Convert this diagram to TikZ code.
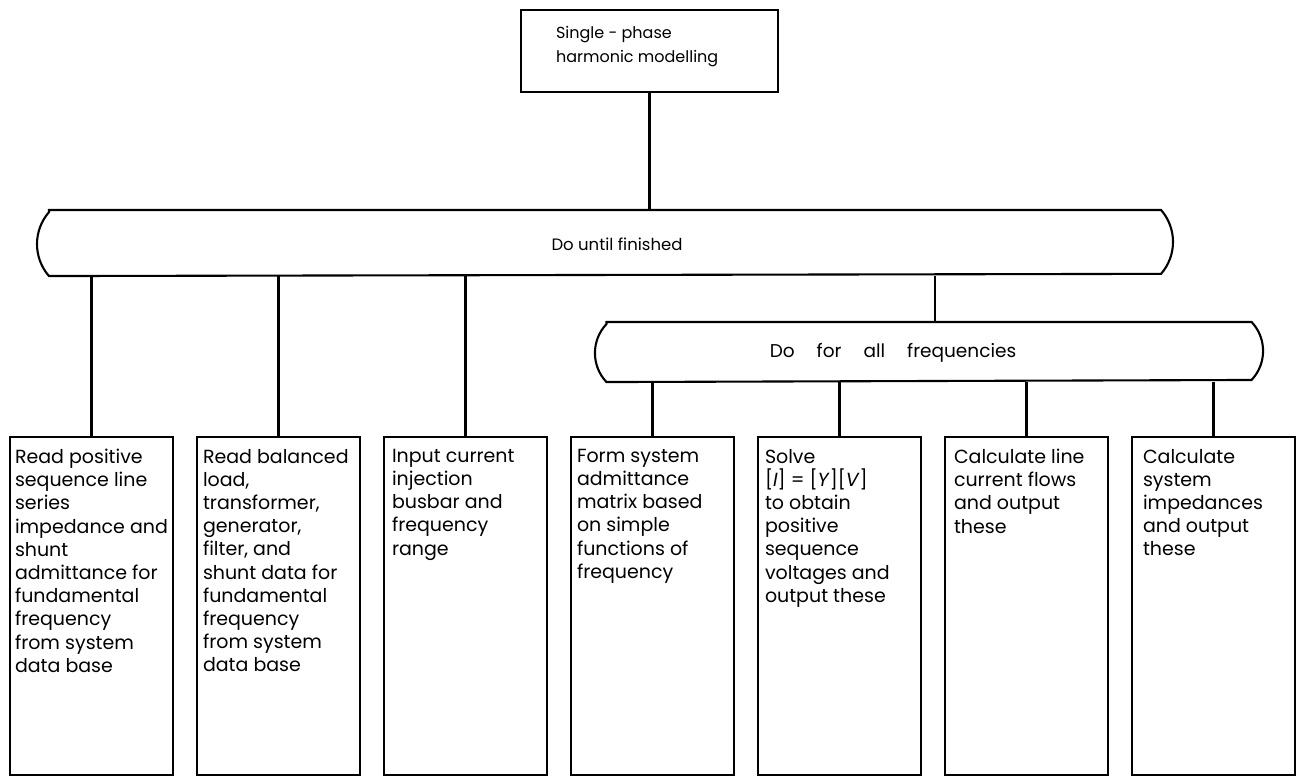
\documentclass[tikz,border=0pt]{standalone}
\usepackage{fontspec}
\setmainfont{Poppins}
\begin{document}
\begin{tikzpicture}[x=1pt,y=1pt,
  line width=2.1pt,
  frame/.style={draw, rectangle, inner sep=0pt},
  bar/.style={rectangle, inner sep=0pt},
  boxtxt/.style={anchor=north west, inner sep=0pt, align=left,
    font=\fontsize{19}{23.2}\selectfont},
  bartxt/.style={inner sep=0pt, font=\fontsize{16.5}{20}\selectfont},
  colbox/.style={frame, minimum width=163pt, minimum height=338pt}]
\useasboundingbox (0,0) rectangle (1297,-778);

% top process box
\node[frame, minimum width=257pt, minimum height=82pt] (top) at (649.5,-51) {};
\node[boxtxt, font=\fontsize{16}{24}\selectfont] (toptxt) at (555,-25)
  {Single - phase\\harmonic modelling};

% iteration bars with bulging ends
\node[bar, minimum width=1134pt, minimum height=64pt] (until) at (605,-243) {};
\draw ([xshift=12pt]until.north west) -- ([xshift=-12pt]until.north east)
  arc[start angle=41, end angle=-41, radius=48.7pt]
  -- ([xshift=12pt]until.south west)
  arc[start angle=221, end angle=139, radius=48.7pt] -- cycle;
\node[bartxt] (untiltxt) at (617,-244) {Do until finished};

\node[bar, minimum width=666pt, minimum height=58pt] (freq) at (929,-352) {};
\draw ([xshift=11.5pt]freq.north west) -- ([xshift=-11.5pt]freq.north east)
  arc[start angle=43.3, end angle=-43.3, radius=42.3pt]
  -- ([xshift=11.5pt]freq.south west)
  arc[start angle=223.3, end angle=136.7, radius=42.3pt] -- cycle;
\node[bartxt, font=\fontsize{18.5}{20}\selectfont] (freqtxt) at (893,-353)
  {Do\hspace{22pt}for\hspace{22pt}all\hspace{22pt}frequencies};

% leaf boxes
\node[colbox] (b1) at (91.5,-606) {};
\node[colbox] (b2) at (278.5,-606) {};
\node[colbox] (b3) at (465.5,-606) {};
\node[colbox] (b4) at (652.5,-606) {};
\node[colbox] (b5) at (839.5,-606) {};
\node[colbox] (b6) at (1026.5,-606) {};
\node[colbox] (b7) at (1213.5,-606) {};

\node[boxtxt] (t1) at ([xshift=5pt,yshift=-12pt]b1.north west)
  {Read positive\\sequence line\\series\\impedance and\\shunt\\admittance for\\fundamental\\frequency\\from system\\data base};
\node[boxtxt] (t2) at ([xshift=6pt,yshift=-12pt]b2.north west)
  {Read balanced\\load,\\transformer,\\generator,\\filter, and\\shunt data for\\fundamental\\frequency\\from system\\data base};
\node[boxtxt] (t3) at ([xshift=8pt,yshift=-12pt]b3.north west)
  {Input current\\injection\\busbar and\\frequency\\range};
\node[boxtxt] (t4) at ([xshift=6pt,yshift=-12pt]b4.north west)
  {Form system\\admittance\\matrix based\\on simple\\functions of\\frequency};
\node[boxtxt] (t5) at ([xshift=7pt,yshift=-12pt]b5.north west)
  {Solve\\{[}\textit{I}{]} = {[}\textit{Y}{]}{[}\textit{V}{]}\\to obtain\\positive\\sequence\\voltages and\\output these};
\node[boxtxt] (t6) at ([xshift=9pt,yshift=-12pt]b6.north west)
  {Calculate line\\current flows\\and output\\these};
\node[boxtxt] (t7) at ([xshift=11pt,yshift=-12pt]b7.north west)
  {Calculate\\system\\impedances\\and output\\these};

% connectors
\draw (top.south) -- (top.south |- until.north);
\foreach \b in {b1,b2,b3}
  \draw (\b.north) -- (\b.north |- until.south);
\draw ([xshift=6pt]freq.north) -- ([xshift=6pt]freq.north |- until.south);
\foreach \b in {b4,b5,b6,b7}
  \draw (\b.north) -- (\b.north |- freq.south);
\end{tikzpicture}
\end{document}
